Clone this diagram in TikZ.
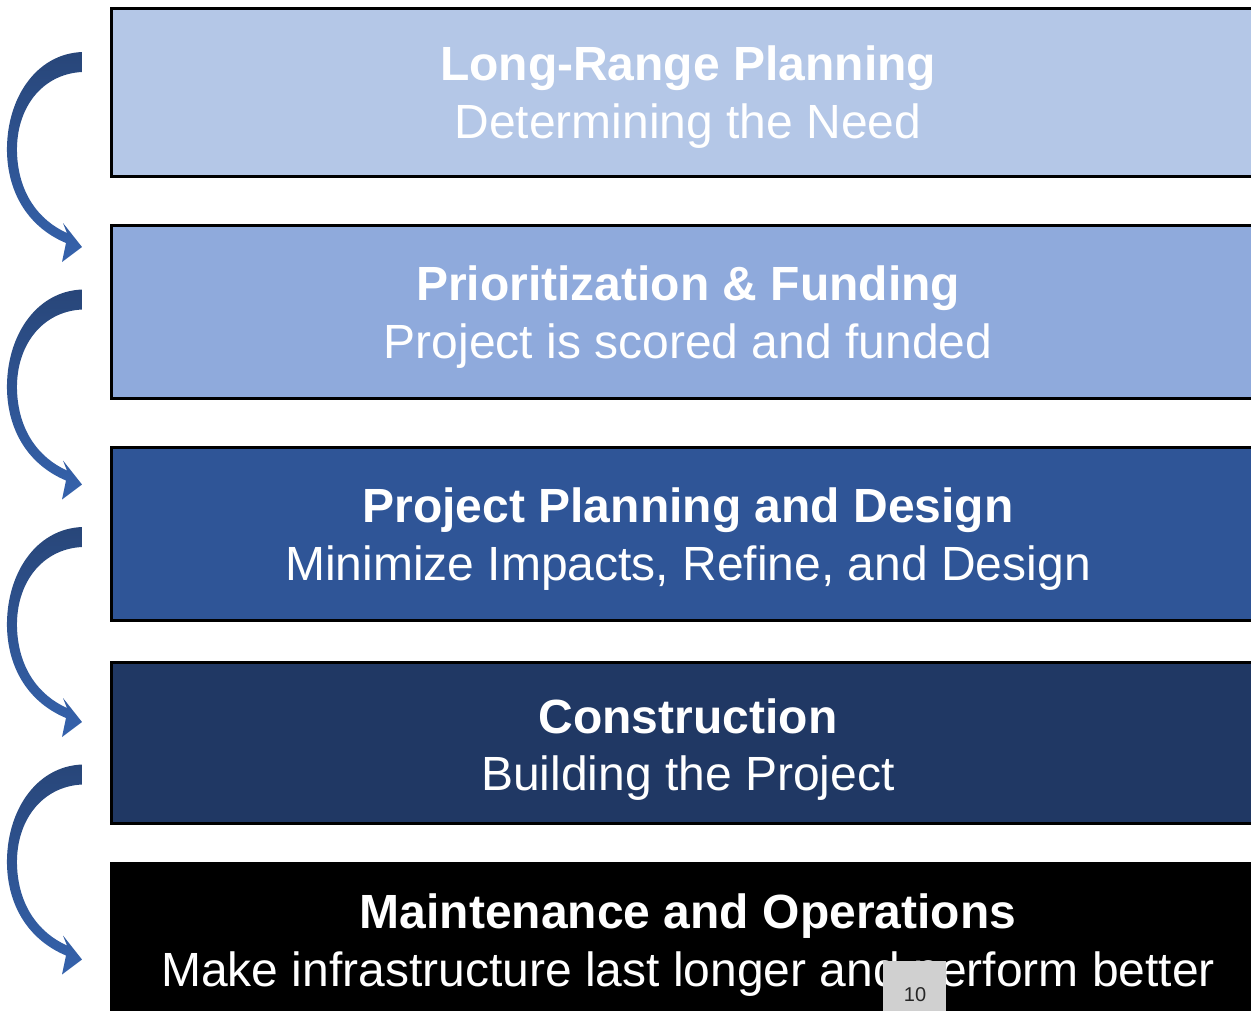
\documentclass[tikz,border=0pt]{standalone}
\usepackage{fontspec}
\setmainfont{Liberation Sans}
\definecolor{cA}{HTML}{B4C7E7}
\definecolor{cB}{HTML}{8FAADC}
\definecolor{cC}{HTML}{2F5597}
\definecolor{cD}{HTML}{203864}
\definecolor{arrTop}{HTML}{284679}
\definecolor{arrBot}{HTML}{3562AC}
\definecolor{pgGray}{HTML}{D0D0D0}
\begin{document}
\begin{tikzpicture}[x=1pt,y=-1pt,
  stagebox/.style={draw=black,line width=2.5pt,anchor=north west,inner sep=0pt,minimum width=1160pt},
  titletxt/.style={anchor=base,text=white,font=\fontsize{48}{58}\selectfont\bfseries,inner sep=0pt},
  subtxt/.style={anchor=base,text=white,font=\fontsize{48}{58}\selectfont,inner sep=0pt},
  curvearrow/.style={top color=arrTop,bottom color=arrBot,draw=none}]
\useasboundingbox (0,0) rectangle (1251,1010);
\clip (0,0) rectangle (1251,1010);
% stage boxes
\node[stagebox,fill=cA,minimum height=168pt] (b1) at (110,7) {};
\node[stagebox,fill=cB,minimum height=173pt] (b2) at (110,224) {};
\node[stagebox,fill=cC,minimum height=173pt] (b3) at (110,446) {};
\node[stagebox,fill=cD,minimum height=161pt] (b4) at (110,661) {};
\node[stagebox,fill=black,minimum height=170pt] (b5) at (110,862) {};
% texts
\node[titletxt] (t1) at (688,80) {Long-Range Planning};
\node[subtxt] (s1) at (688,138) {Determining the Need};
\node[titletxt] (t2) at (688,300) {Prioritization \& Funding};
\node[subtxt] (s2) at (688,358) {Project is scored and funded};
\node[titletxt] (t3) at (688,522) {Project Planning and Design};
\node[subtxt] (s3) at (688,580) {Minimize Impacts, Refine, and Design};
\node[titletxt] (t4) at (688,733) {Construction};
\node[subtxt] (s4) at (688,790) {Building the Project};
\node[titletxt] (t5) at (688,928) {Maintenance and Operations};
\node[subtxt] (s5) at (688,986) {Make infrastructure last longer and perform better};
% curved arrows
\foreach \k in {0,1,2,3}{
  \begin{scope}[yshift=-237.5*\k pt]
    \path[curvearrow]
      (82,52) .. controls (35,54) and (6,100) .. (7,152)
      .. controls (8,195) and (30,228) .. (66,243)
      -- (62,262) -- (82,247) -- (63,223) -- (67,233)
      .. controls (38,220) and (18,192) .. (17,152)
      .. controls (16,108) and (42,74) .. (82,72) -- cycle;
  \end{scope}
}
% page number tab
\node[fill=pgGray,anchor=north west,minimum width=63pt,minimum height=60pt,inner sep=0pt] (pg) at (883,961) {};
\node[anchor=base,text=black!85,font=\fontsize{20}{24}\selectfont,inner sep=0pt] (pgn) at (915,1001) {10};
\end{tikzpicture}
\end{document}
